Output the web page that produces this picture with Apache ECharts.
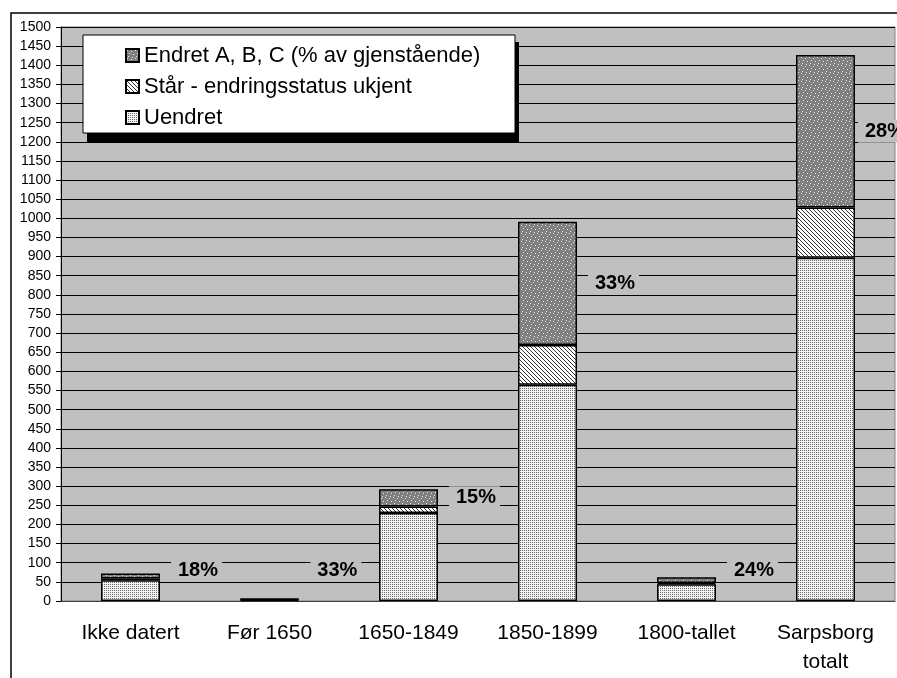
<!DOCTYPE html>
<html>
<head>
<meta charset="utf-8">
<script src="https://cdn.jsdelivr.net/npm/echarts@6/dist/echarts.min.js"></script>
<style>
  html, body { margin: 0; padding: 0; background: #fff; }
  #chart { width: 897px; height: 678px; }
</style>
</head>
<body>
<div id="chart"></div>
<script>
// data
const categories = ['Ikke datert', 'Før 1650', '1650-1849', '1850-1899', '1800-tallet', 'Sarpsborg\ntotalt']
const uendret = [54, 3, 230, 565, 44, 897]
const staar = [5, 1, 17, 104, 3, 131]
const endret = [13, 2, 45, 322, 15, 399]
const pctLabels = ['18%', '33%', '15%', '33%', '24%', '28%']
const seriesNames = ['Uendret', 'Står - endringsstatus ukjent', 'Endret A, B, C (% av gjenstående)']
const yMin = 0
const yMax = 1500
const yStep = 50

const FONT = 'Liberation Sans, Arial, sans-serif'

// small canvas fill patterns (excel style hatching)
function makePattern (w, h, bg, fg, pts) {
  const c = document.createElement('canvas')
  c.width = w
  c.height = h
  const ctx = c.getContext('2d')
  ctx.fillStyle = bg
  ctx.fillRect(0, 0, w, h)
  ctx.fillStyle = fg
  pts.forEach(p => ctx.fillRect(p[0], p[1], 1, 1))
  return { image: c, repeat: 'repeat' }
}
const dotted = makePattern(2, 2, '#f4f4f4', '#6a6a6a', [[0, 0]])
const hatched = makePattern(4, 4, '#ffffff', '#333333', [[0, 0], [1, 1], [2, 2], [3, 3]])
const confetti = makePattern(8, 8, '#808080', '#e8e8e8', [[1, 1], [5, 2], [3, 4], [7, 5], [2, 7], [6, 0]])

const chart = echarts.init(document.getElementById('chart'))

const barStyle = (fill) => ({ color: fill, borderColor: '#000', borderWidth: 1.5 })

const option = {
  backgroundColor: '#fff',
  animation: false,
  textStyle: { fontFamily: FONT, color: '#000' },
  grid: {
    left: 61, right: 2, top: 27, bottom: 77,
    show: true, backgroundColor: '#c0c0c0', borderColor: '#808080', borderWidth: 1
  },
  graphic: [
    // outer chart frame
    { type: 'rect', z: 3, shape: { x: 11, y: 13, width: 1000, height: 1000 },
      style: { fill: 'none', stroke: '#000', lineWidth: 1.5 } },
    // legend box with drop shadow
    { type: 'rect', z: 3, shape: { x: 87, y: 42, width: 432, height: 100 }, style: { fill: '#000' } },
    { type: 'rect', z: 3, shape: { x: 83, y: 35, width: 432, height: 98 },
      style: { fill: '#fff', stroke: '#000', lineWidth: 1 } }
  ],
  legend: {
    orient: 'vertical',
    left: 120, top: 39,
    z: 5,
    data: [seriesNames[2], seriesNames[1], seriesNames[0]],
    icon: 'rect',
    itemWidth: 13, itemHeight: 13,
    itemGap: 8,
    textStyle: { fontFamily: FONT, fontSize: 22, color: '#000', lineHeight: 23 }
  },
  xAxis: {
    type: 'category',
    data: categories,
    axisLine: { lineStyle: { color: '#404040', width: 1 } },
    axisTick: { length: 5, lineStyle: { color: '#000' } },
    axisLabel: { fontFamily: FONT, fontSize: 21, color: '#000', margin: 18, lineHeight: 29, interval: 0 }
  },
  yAxis: {
    type: 'value',
    min: yMin, max: yMax, interval: yStep,
    axisLine: { show: true, lineStyle: { color: '#000' } },
    axisTick: { show: true, length: 5, lineStyle: { color: '#000' } },
    axisLabel: { fontFamily: FONT, fontSize: 14, color: '#000', margin: 10, formatter: v => String(v) },
    splitLine: { lineStyle: { color: '#000', width: 1 } }
  },
  series: [
    { name: seriesNames[0], type: 'bar', stack: 'a', barWidth: 59, itemStyle: barStyle(dotted), data: uendret },
    { name: seriesNames[1], type: 'bar', stack: 'a', barWidth: 59, itemStyle: barStyle(hatched), data: staar },
    {
      name: seriesNames[2], type: 'bar', stack: 'a', barWidth: 59, itemStyle: barStyle(confetti),
      label: {
        show: true,
        position: 'right',
        distance: 11,
        formatter: p => pctLabels[p.dataIndex],
        fontFamily: FONT, fontSize: 20, fontWeight: 'bold', color: '#000',
        backgroundColor: '#c0c0c0',
        padding: [2, 4, 1, 7]
      },
      data: endret
    }
  ]
}
chart.setOption(option)

// excel puts the % label at the middle of the top segment, but never lower than ~80
const toY = v => chart.convertToPixel({ yAxisIndex: 0 }, v)
const labelled = endret.map((v, i) => {
  const mid = uendret[i] + staar[i] + v / 2
  const dy = toY(Math.max(mid, 80)) - toY(mid)
  const dx = i === endret.length - 1 ? -8 : 0
  return { value: v, label: { offset: [dx, dy] } }
})
chart.setOption({ series: [{}, {}, { data: labelled }] })
</script>
</body>
</html>
